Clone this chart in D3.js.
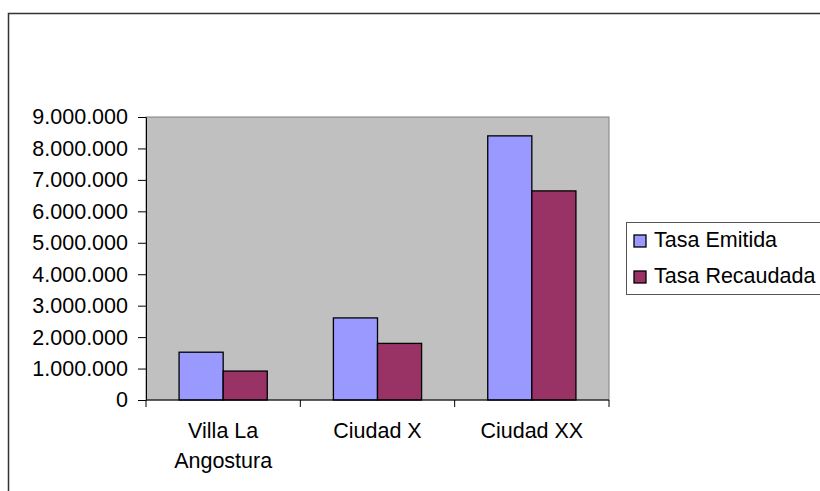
<!DOCTYPE html>
<html>
<head>
<meta charset="utf-8">
<script src="https://cdn.jsdelivr.net/npm/d3@7"></script>
<style>
  body { margin: 0; background: #fff; }
  svg { display: block; }
</style>
</head>
<body>
<div id="grafico"></div>
<script>
// datos
const ciudades = ["Villa La Angostura", "Ciudad X", "Ciudad XX"];
const etiquetas = [["Villa La", "Angostura"], ["Ciudad X"], ["Ciudad XX"]];
const series = ["Tasa Emitida", "Tasa Recaudada"];
const tasaEmitida = [1520000, 2610000, 8400000];
const tasaRecaudada = [920000, 1800000, 6650000];
const colores = ["#9999ff", "#993366"];
const marcasY = [0, 1000000, 2000000, 3000000, 4000000, 5000000, 6000000, 7000000, 8000000, 9000000];

const width = 820, height = 491;
const plot = { left: 146, top: 117, right: 609, bottom: 400 };
const fuente = "'Liberation Sans', Arial, sans-serif";
const tamFuente = "21.5px";

const locale = d3.formatLocale({ decimal: ",", thousands: ".", grouping: [3], currency: ["$", ""] });
const fmt = locale.format(",d");

const svg = d3.select("#grafico")
  .append("svg")
  .attr("width", width)
  .attr("height", height);

// marco exterior (se sale de la ventana por derecha y abajo)
svg.append("rect")
  .attr("x", 8.5).attr("y", 13.5)
  .attr("width", 900).attr("height", 600)
  .attr("fill", "#fff")
  .attr("stroke", "#333")
  .attr("stroke-width", 1.5);

const x = d3.scaleBand()
  .domain(ciudades)
  .range([plot.left, plot.right])
  .paddingInner(0)
  .paddingOuter(0);

const xSerie = d3.scaleBand()
  .domain(series)
  .range([0, x.bandwidth()])
  .paddingOuter(0.75)
  .paddingInner(0);

const y = d3.scaleLinear()
  .domain([0, 9000000])
  .range([plot.bottom, plot.top]);

// area de trazado
svg.append("rect")
  .attr("x", plot.left).attr("y", plot.top)
  .attr("width", plot.right - plot.left)
  .attr("height", plot.bottom - plot.top)
  .attr("fill", "#c0c0c0")
  .attr("stroke", "#808080")
  .attr("stroke-width", 1);

// barras
const datos = [];
ciudades.forEach((c, i) => {
  datos.push({ ciudad: c, serie: series[0], valor: tasaEmitida[i], color: colores[0] });
  datos.push({ ciudad: c, serie: series[1], valor: tasaRecaudada[i], color: colores[1] });
});

svg.append("g")
  .selectAll("rect")
  .data(datos)
  .join("rect")
  .attr("x", d => x(d.ciudad) + xSerie(d.serie))
  .attr("y", d => y(d.valor))
  .attr("width", xSerie.bandwidth())
  .attr("height", d => y(0) - y(d.valor))
  .attr("fill", d => d.color)
  .attr("stroke", "#000")
  .attr("stroke-width", 1.3);

// eje Y
const ejeY = svg.append("g")
  .attr("transform", "translate(" + plot.left + ",0)")
  .call(d3.axisLeft(y).tickValues(marcasY).tickFormat(fmt).tickSize(8).tickPadding(10).tickSizeOuter(0));
ejeY.select(".domain").attr("stroke", "#000");
ejeY.selectAll("line").attr("stroke", "#000");
ejeY.selectAll("text")
  .style("font-family", fuente)
  .style("font-size", tamFuente)
  .attr("fill", "#000");

// eje X
const limites = [plot.left].concat(ciudades.map(c => x(c) + x.bandwidth()));
const ejeX = svg.append("g");
ejeX.append("line")
  .attr("x1", plot.left).attr("x2", plot.right)
  .attr("y1", y(0)).attr("y2", y(0))
  .attr("stroke", "#000");
ejeX.selectAll("line.marca")
  .data(limites)
  .join("line")
  .attr("class", "marca")
  .attr("x1", d => d).attr("x2", d => d)
  .attr("y1", y(0)).attr("y2", y(0) + 7)
  .attr("stroke", "#000");

ejeX.selectAll("text")
  .data(ciudades)
  .join("text")
  .attr("x", d => x(d) + x.bandwidth() / 2)
  .attr("y", 438)
  .attr("text-anchor", "middle")
  .style("font-family", fuente)
  .style("font-size", tamFuente)
  .each(function (d, i) {
    d3.select(this).selectAll("tspan")
      .data(etiquetas[i])
      .join("tspan")
      .attr("x", x(d) + x.bandwidth() / 2)
      .attr("dy", (t, j) => j === 0 ? 0 : 30)
      .text(t => t);
  });

// leyenda
const leyenda = svg.append("g").attr("transform", "translate(626,222)");
leyenda.append("rect")
  .attr("x", 0.5).attr("y", 0.5)
  .attr("width", 220).attr("height", 72)
  .attr("fill", "#fff")
  .attr("stroke", "#555")
  .attr("stroke-width", 1);

const items = leyenda.selectAll("g.item")
  .data(series)
  .join("g")
  .attr("class", "item")
  .attr("transform", (d, i) => "translate(0," + (i * 36) + ")");

items.append("rect")
  .attr("x", 8).attr("y", 13)
  .attr("width", 12).attr("height", 12)
  .attr("fill", (d, i) => colores[i])
  .attr("stroke", "#000")
  .attr("stroke-width", 1.3);

items.append("text")
  .attr("x", 28).attr("y", 25)
  .style("font-family", fuente)
  .style("font-size", tamFuente)
  .text(d => d);
</script>
</body>
</html>
